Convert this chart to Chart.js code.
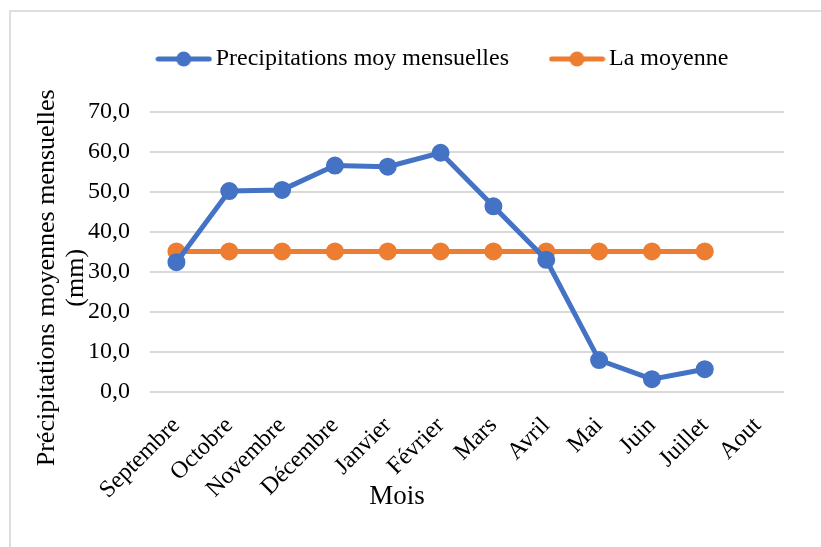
<!DOCTYPE html>
<html>
<head>
<meta charset="utf-8">
<script src="https://cdn.jsdelivr.net/npm/chart.js@4"></script>
<style>
  body { margin: 0; background: #fff; }
</style>
</head>
<body>
<canvas id="pluieChart" width="821" height="547"></canvas>
<script>
// données
var mois = ['Septembre', 'Octobre', 'Novembre', 'Décembre', 'Janvier', 'Février',
  'Mars', 'Avril', 'Mai', 'Juin', 'Juillet', 'Aout'];
var precipitations = [32.4, 50.2, 50.5, 56.6, 56.3, 59.8, 46.4, 33.0, 7.9, 3.1, 5.6, null];
var moyenne = [35.1, 35.1, 35.1, 35.1, 35.1, 35.1, 35.1, 35.1, 35.1, 35.1, 35.1, null];
var yTicks = [0, 10, 20, 30, 40, 50, 60, 70];

var bleu = '#4472c4';
var orange = '#ed7d31';
var police = 'Liberation Serif';

// icône trait + rond pour la légende
function legendIcon(color) {
  var c = document.createElement('canvas');
  c.width = 57; c.height = 16;
  var ctx = c.getContext('2d');
  ctx.strokeStyle = color;
  ctx.lineWidth = 5;
  ctx.lineCap = 'round';
  ctx.beginPath();
  ctx.moveTo(3, 8); ctx.lineTo(54, 8);
  ctx.stroke();
  ctx.fillStyle = color;
  ctx.beginPath();
  ctx.arc(28.5, 8, 7.5, 0, Math.PI * 2);
  ctx.fill();
  return c;
}

// cadre gris clair + déplacement de la légende
var cadre = {
  id: 'cadre',
  afterLayout: function(chart) {
    var lg = chart.legend;
    lg.left += 49; lg.right += 49;
    lg.top -= 31; lg.bottom -= 31;
  },
  beforeDraw: function(chart) {
    var ctx = chart.ctx;
    ctx.save();
    ctx.fillStyle = '#fff';
    ctx.fillRect(0, 0, chart.width, chart.height);
    ctx.strokeStyle = '#dedede';
    ctx.lineWidth = 2;
    ctx.strokeRect(10, 11, 900, 900);
    ctx.restore();
  }
};

var context = document.getElementById('pluieChart').getContext('2d');
var pluieChart = new Chart(context, {
  type: 'line',
  data: {
    labels: mois,
    datasets: [
      {
        label: 'Precipitations moy mensuelles',
        data: precipitations,
        borderColor: bleu,
        backgroundColor: bleu,
        borderWidth: 5,
        pointRadius: 6.5,
        pointHoverRadius: 6.5,
        tension: 0
      },
      {
        label: 'La moyenne',
        data: moyenne,
        borderColor: orange,
        backgroundColor: orange,
        borderWidth: 5,
        pointRadius: 6.5,
        pointHoverRadius: 6.5,
        tension: 0
      }
    ]
  },
  options: {
    responsive: false,
    animation: false,
    layout: { padding: { left: 10, right: 37, top: 30, bottom: 0 } },
    plugins: {
      legend: {
        position: 'top',
        labels: {
          font: { family: police, size: 24 },
          color: '#000',
          usePointStyle: true,
          pointStyleWidth: 40,
          padding: 48,
          generateLabels: function(chart) {
            return chart.data.datasets.map(function(ds, i) {
              return {
                text: ds.label,
                fillStyle: ds.borderColor,
                strokeStyle: ds.borderColor,
                lineWidth: 0,
                pointStyle: legendIcon(ds.borderColor),
                hidden: false,
                datasetIndex: i
              };
            });
          }
        }
      },
      title: {
        display: true,
        position: 'bottom',
        text: 'Mois',
        color: '#000',
        font: { family: police, size: 27, weight: 'normal' },
        padding: { top: -18, bottom: 34 }
      },
      tooltip: { enabled: false }
    },
    scales: {
      x: {
        offset: true,
        grid: { display: false, drawTicks: false },
        border: { display: false },
        afterFit: function(scale) { scale.height = 107; },
        ticks: {
          minRotation: 45,
          maxRotation: 45,
          padding: 20,
          autoSkip: false,
          color: '#000',
          font: { family: police, size: 24 }
        }
      },
      y: {
        min: 0,
        max: 70,
        afterFit: function(scale) { scale.width = 140; },
        afterBuildTicks: function(scale) {
          scale.ticks = yTicks.map(function(v) { return { value: v }; });
        },
        ticks: {
          color: '#000',
          padding: 20,
          font: { family: police, size: 24 },
          callback: function(v) { return v.toFixed(1).replace('.', ','); }
        },
        grid: { color: '#d9d9d9', lineWidth: 2, drawTicks: false },
        border: { display: false },
        title: {
          display: true,
          text: ['Précipitations moyennes mensuelles        ', '(mm)        '],
          color: '#000',
          font: { family: police, size: 26, lineHeight: 1.1 },
          padding: { top: 23, bottom: 0 }
        }
      }
    }
  },
  plugins: [cadre]
});
</script>
</body>
</html>
